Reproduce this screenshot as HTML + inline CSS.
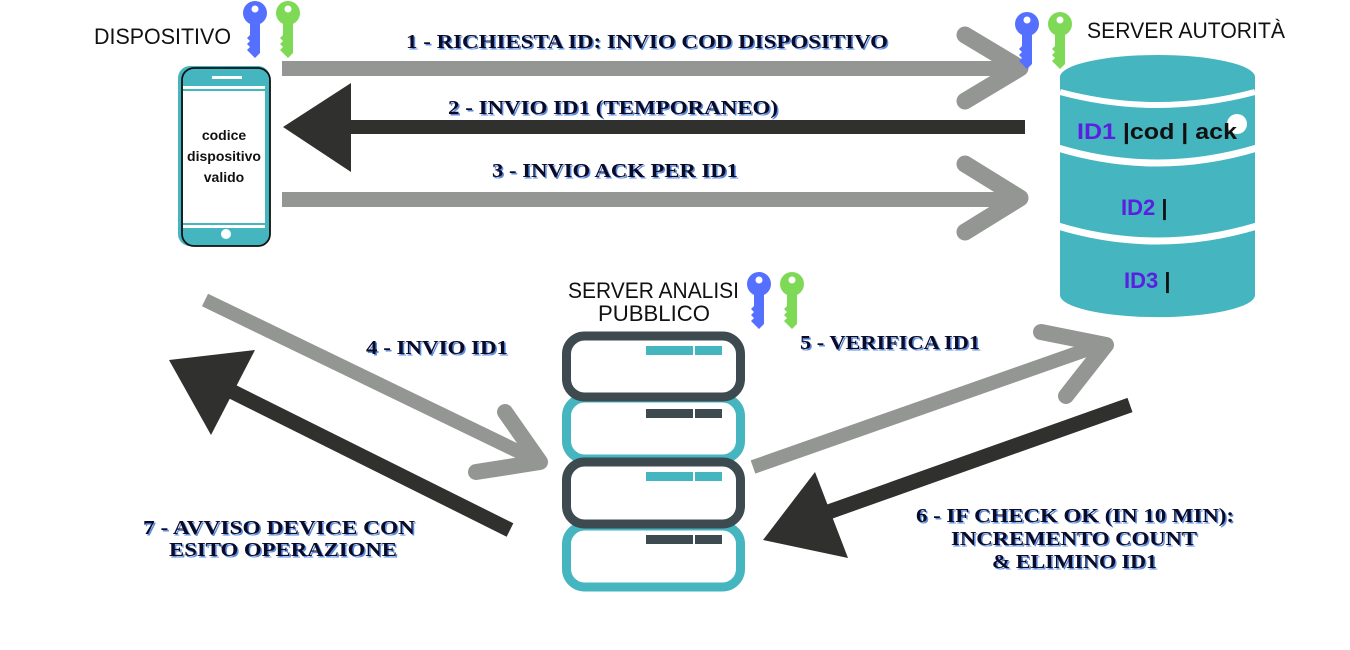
<!DOCTYPE html>
<html><head><meta charset="utf-8"><style>
html,body{margin:0;padding:0;background:#fff;width:1350px;height:650px;overflow:hidden}
svg{display:block}
.lb{font-family:"Liberation Serif",serif;font-weight:bold;font-size:20px;fill:#0b0b28}
.sh{font-family:"Liberation Serif",serif;font-weight:bold;font-size:20px;fill:#5b8de0}
.hd{font-family:"Liberation Sans",sans-serif;font-size:22px;fill:#111;font-weight:300}
</style></head><body>
<svg width="1350" height="650" viewBox="0 0 1350 650" xmlns="http://www.w3.org/2000/svg">
<defs>
<g id="k">
<circle cx="0" cy="0" r="12"/>
<polygon points="-5,6 5,6 5,40 0,45 -5,40 -8,37 -5,34 -8,31 -5,28 -8,25 -5,22"/>
</g>
</defs>

<!-- Arrow 1 -->
<rect x="282" y="61" width="735" height="15" fill="#949694"/>
<polyline points="965,35 1020,68 965,101" fill="none" stroke="#949694" stroke-width="17" stroke-linecap="round" stroke-linejoin="round"/>
<!-- Arrow 2 -->
<rect x="345" y="120" width="680" height="14" fill="#30312e"/>
<polygon points="283,127 351,83 351,172" fill="#30312e"/>
<!-- Arrow 3 -->
<rect x="282" y="192" width="735" height="15" fill="#949694"/>
<polyline points="965,164 1020,198 965,232" fill="none" stroke="#949694" stroke-width="17" stroke-linecap="round" stroke-linejoin="round"/>

<!-- Arrow 4 -->
<line x1="205" y1="300" x2="536" y2="460" stroke="#949694" stroke-width="14"/>
<polyline points="505,412 540,462 476,472" fill="none" stroke="#949694" stroke-width="16" stroke-linecap="round" stroke-linejoin="round"/>
<!-- Arrow 7 -->
<line x1="510" y1="530" x2="225" y2="388" stroke="#30312e" stroke-width="15"/>
<polygon points="169,360 255,350 211,435" fill="#30312e"/>
<!-- Arrow 5 -->
<line x1="753" y1="467" x2="1100" y2="345" stroke="#949694" stroke-width="14"/>
<polyline points="1041,332 1106,345 1066,396" fill="none" stroke="#949694" stroke-width="16" stroke-linecap="round" stroke-linejoin="round"/>
<!-- Arrow 6 -->
<line x1="1130" y1="405" x2="820" y2="515" stroke="#30312e" stroke-width="15"/>
<polygon points="763,540 815,472 848,558" fill="#30312e"/>

<!-- Phone -->
<rect x="178" y="66" width="92" height="180" rx="12" fill="#45b5c0"/>
<rect x="182" y="90" width="84" height="134" fill="#fff" stroke="#45b5c0" stroke-width="2"/>
<rect x="183" y="86" width="82" height="3" fill="#fff"/>
<rect x="183" y="225" width="82" height="3" fill="#fff"/>
<rect x="212" y="76" width="30" height="3" fill="#fff"/>
<circle cx="226" cy="234" r="5" fill="#fff"/>
<rect x="182" y="68" width="88" height="178" rx="12" fill="none" stroke="#111" stroke-width="1.8"/>
<text x="224" y="140" text-anchor="middle" font-family="'Liberation Sans',sans-serif" font-weight="bold" font-size="14" fill="#111">codice</text>
<text x="224" y="161" text-anchor="middle" font-family="'Liberation Sans',sans-serif" font-weight="bold" font-size="14" fill="#111">dispositivo</text>
<text x="224" y="182" text-anchor="middle" font-family="'Liberation Sans',sans-serif" font-weight="bold" font-size="14" fill="#111">valido</text>

<!-- Database -->
<path d="M1060,77 L1060,295 A97,22 0 0 0 1255,295 L1255,77 Z" fill="#45b5c0"/>
<ellipse cx="1157.5" cy="77" rx="97.5" ry="22" fill="#45b5c0"/>
<path d="M1060,92 Q1157,118 1255,92" fill="none" stroke="#fff" stroke-width="6"/>
<path d="M1058,148 Q1157,178 1257,148" fill="none" stroke="#fff" stroke-width="7"/>
<path d="M1058,226 Q1157,256 1257,226" fill="none" stroke="#fff" stroke-width="7"/>
<circle cx="1237" cy="124" r="10" fill="#fff"/>
<text x="1077" y="139" font-family="'Liberation Sans',sans-serif" font-weight="bold" font-size="22" fill="#5b1fe0" textLength="160" lengthAdjust="spacingAndGlyphs">ID1 <tspan fill="#111">|cod | ack</tspan></text>
<text x="1121" y="215" font-family="'Liberation Sans',sans-serif" font-weight="bold" font-size="22" fill="#5b1fe0">ID2 <tspan fill="#111">|</tspan></text>
<text x="1124" y="288" font-family="'Liberation Sans',sans-serif" font-weight="bold" font-size="22" fill="#5b1fe0">ID3 <tspan fill="#111">|</tspan></text>

<!-- Server stack -->
<rect x="566.5" y="526" width="174" height="61" rx="18" fill="#fff" stroke="#45b5c0" stroke-width="9"/>
<rect x="566.5" y="398" width="174" height="61" rx="18" fill="#fff" stroke="#45b5c0" stroke-width="9"/>
<rect x="566.5" y="462" width="174" height="62" rx="18" fill="#fff" stroke="#3d4a4f" stroke-width="9"/>
<rect x="566.5" y="336" width="174" height="61" rx="18" fill="#fff" stroke="#3d4a4f" stroke-width="9"/>
<rect x="646" y="346" width="47" height="9" fill="#45b5c0"/><rect x="695" y="346" width="27" height="9" fill="#45b5c0"/>
<rect x="646" y="409" width="47" height="9" fill="#3d4a4f"/><rect x="695" y="409" width="27" height="9" fill="#3d4a4f"/>
<rect x="646" y="472" width="47" height="9" fill="#45b5c0"/><rect x="695" y="472" width="27" height="9" fill="#45b5c0"/>
<rect x="646" y="535" width="47" height="9" fill="#3d4a4f"/><rect x="695" y="535" width="27" height="9" fill="#3d4a4f"/>

<!-- Keys -->
<g fill="#5570ff"><use href="#k" transform="translate(255,13)"/><use href="#k" transform="translate(1027,24)"/><use href="#k" transform="translate(759,284)"/></g>
<g fill="#7ed957"><use href="#k" transform="translate(288,13)"/><use href="#k" transform="translate(1060,24)"/><use href="#k" transform="translate(792,284)"/></g>
<g fill="#fff"><circle cx="255" cy="9" r="3.5"/><circle cx="288" cy="9" r="3.5"/><circle cx="1027" cy="20" r="3.5"/><circle cx="1060" cy="20" r="3.5"/><circle cx="759" cy="280" r="3.5"/><circle cx="792" cy="280" r="3.5"/></g>

<!-- Headers -->
<text class="hd" x="94" y="44" textLength="137" lengthAdjust="spacingAndGlyphs">DISPOSITIVO</text>
<text class="hd" x="1087" y="38" textLength="198" lengthAdjust="spacingAndGlyphs">SERVER AUTORITÀ</text>
<text class="hd" x="568" y="298" textLength="171" lengthAdjust="spacingAndGlyphs">SERVER ANALISI</text>
<text class="hd" x="598" y="321" textLength="112" lengthAdjust="spacingAndGlyphs">PUBBLICO</text>

<!-- Labels (shadow + main) -->
<g transform="translate(1.5,1.5)">
<text class="sh" x="406" y="48" textLength="482" lengthAdjust="spacingAndGlyphs">1 - RICHIESTA ID: INVIO COD DISPOSITIVO</text>
<text class="sh" x="448" y="114" textLength="330" lengthAdjust="spacingAndGlyphs">2 - INVIO ID1 (TEMPORANEO)</text>
<text class="sh" x="492" y="177" textLength="246" lengthAdjust="spacingAndGlyphs">3 - INVIO ACK PER ID1</text>
<text class="sh" x="366" y="354" textLength="142" lengthAdjust="spacingAndGlyphs">4 - INVIO ID1</text>
<text class="sh" x="800" y="349" textLength="180" lengthAdjust="spacingAndGlyphs">5 - VERIFICA ID1</text>
<text class="sh" x="143" y="534" textLength="272" lengthAdjust="spacingAndGlyphs">7 - AVVISO  DEVICE CON</text>
<text class="sh" x="169" y="556" textLength="228" lengthAdjust="spacingAndGlyphs">ESITO OPERAZIONE</text>
<text class="sh" x="916" y="522" textLength="318" lengthAdjust="spacingAndGlyphs">6 - IF CHECK OK (IN 10 MIN):</text>
<text class="sh" x="951" y="545" textLength="246" lengthAdjust="spacingAndGlyphs">INCREMENTO COUNT</text>
<text class="sh" x="992" y="568" textLength="165" lengthAdjust="spacingAndGlyphs">&amp; ELIMINO ID1</text>
</g>
<g>
<text class="lb" x="406" y="48" textLength="482" lengthAdjust="spacingAndGlyphs">1 - RICHIESTA ID: INVIO COD DISPOSITIVO</text>
<text class="lb" x="448" y="114" textLength="330" lengthAdjust="spacingAndGlyphs">2 - INVIO ID1 (TEMPORANEO)</text>
<text class="lb" x="492" y="177" textLength="246" lengthAdjust="spacingAndGlyphs">3 - INVIO ACK PER ID1</text>
<text class="lb" x="366" y="354" textLength="142" lengthAdjust="spacingAndGlyphs">4 - INVIO ID1</text>
<text class="lb" x="800" y="349" textLength="180" lengthAdjust="spacingAndGlyphs">5 - VERIFICA ID1</text>
<text class="lb" x="143" y="534" textLength="272" lengthAdjust="spacingAndGlyphs">7 - AVVISO  DEVICE CON</text>
<text class="lb" x="169" y="556" textLength="228" lengthAdjust="spacingAndGlyphs">ESITO OPERAZIONE</text>
<text class="lb" x="916" y="522" textLength="318" lengthAdjust="spacingAndGlyphs">6 - IF CHECK OK (IN 10 MIN):</text>
<text class="lb" x="951" y="545" textLength="246" lengthAdjust="spacingAndGlyphs">INCREMENTO COUNT</text>
<text class="lb" x="992" y="568" textLength="165" lengthAdjust="spacingAndGlyphs">&amp; ELIMINO ID1</text>
</g>
</svg>
</body></html>
